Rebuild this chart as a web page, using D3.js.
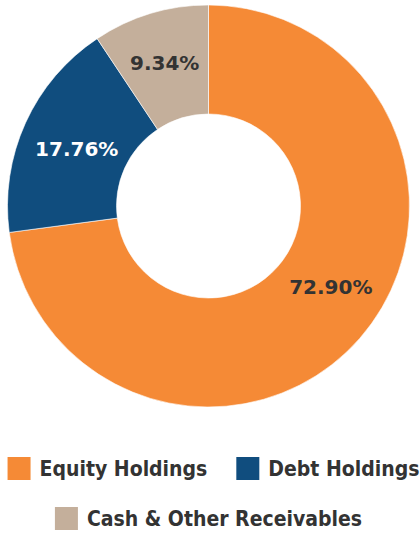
<!DOCTYPE html>
<html><head><meta charset="utf-8">
<script src="https://cdn.jsdelivr.net/npm/d3@7"></script>
<style>body{margin:0;background:#fff}svg{display:block}</style>
</head><body>
<svg id="c" width="420" height="533"></svg>
<script>
const categories = ["Equity Holdings", "Debt Holdings", "Cash & Other Receivables"];
const values = [72.90, 17.76, 9.34];
const colors = ["#F58A36", "#104D7E", "#C4AF9B"];
const labelColors = ["#333333", "#ffffff", "#333333"];
const legendRows = [[0, 1], [2]];

const svg = d3.select("#c");
const cx = 208.5, cy = 206, rOuter = 201, rInner = 92;
const legendFont = "'DejaVu Sans Condensed', 'DejaVu Sans', sans-serif";
const labelFont = "'DejaVu Sans', sans-serif";
// small label nudges (px) relative to arc centroid, to match the original placement
const labelNudge = [[11, -17], [3, 3.5], [-1, -2]];

const pie = d3.pie().sort(null).value(d => d)(values);
const arc = d3.arc().innerRadius(rInner).outerRadius(rOuter);
const labelArc = d3.arc().innerRadius(148).outerRadius(148);

const g = svg.append("g").attr("transform", `translate(${cx},${cy})`);
g.selectAll("path").data(pie).join("path")
  .attr("d", arc).attr("fill", (d, i) => colors[i])
  .attr("stroke", "#fff").attr("stroke-width", 0.6);

g.selectAll("text").data(pie).join("text")
  .attr("transform", (d, i) => { const [x, y] = labelArc.centroid(d); return `translate(${x + labelNudge[i][0]},${y + labelNudge[i][1]})`; })
  .attr("text-anchor", "middle").attr("dy", "0.36em")
  .attr("font-family", labelFont).attr("font-weight", "bold").attr("font-size", 20)
  .attr("fill", (d, i) => labelColors[i])
  .text(d => d.data.toFixed(2) + "%");

// legend
const sw = 23, gapText = 9, gapItem = 29;
const rowY = [457, 507];
legendRows.forEach((row, ri) => {
  const lg = svg.append("g");
  let x = 0;
  row.forEach((ci, k) => {
    if (k > 0) x += gapItem;
    lg.append("rect").attr("x", x).attr("y", rowY[ri]).attr("width", sw).attr("height", sw).attr("fill", colors[ci]);
    const t = lg.append("text").attr("x", x + sw + gapText).attr("y", rowY[ri] + sw / 2).attr("dy", "0.36em")
      .attr("font-family", legendFont).attr("font-weight", "bold").attr("font-size", 21)
      .attr("fill", "#333333").text(categories[ci]);
    x += sw + gapText + t.node().getComputedTextLength();
  });
  lg.attr("transform", `translate(${210 - x / 2 + (ri === 0 ? 3.5 : -1.5)},0)`);
});
</script>
</body></html>
